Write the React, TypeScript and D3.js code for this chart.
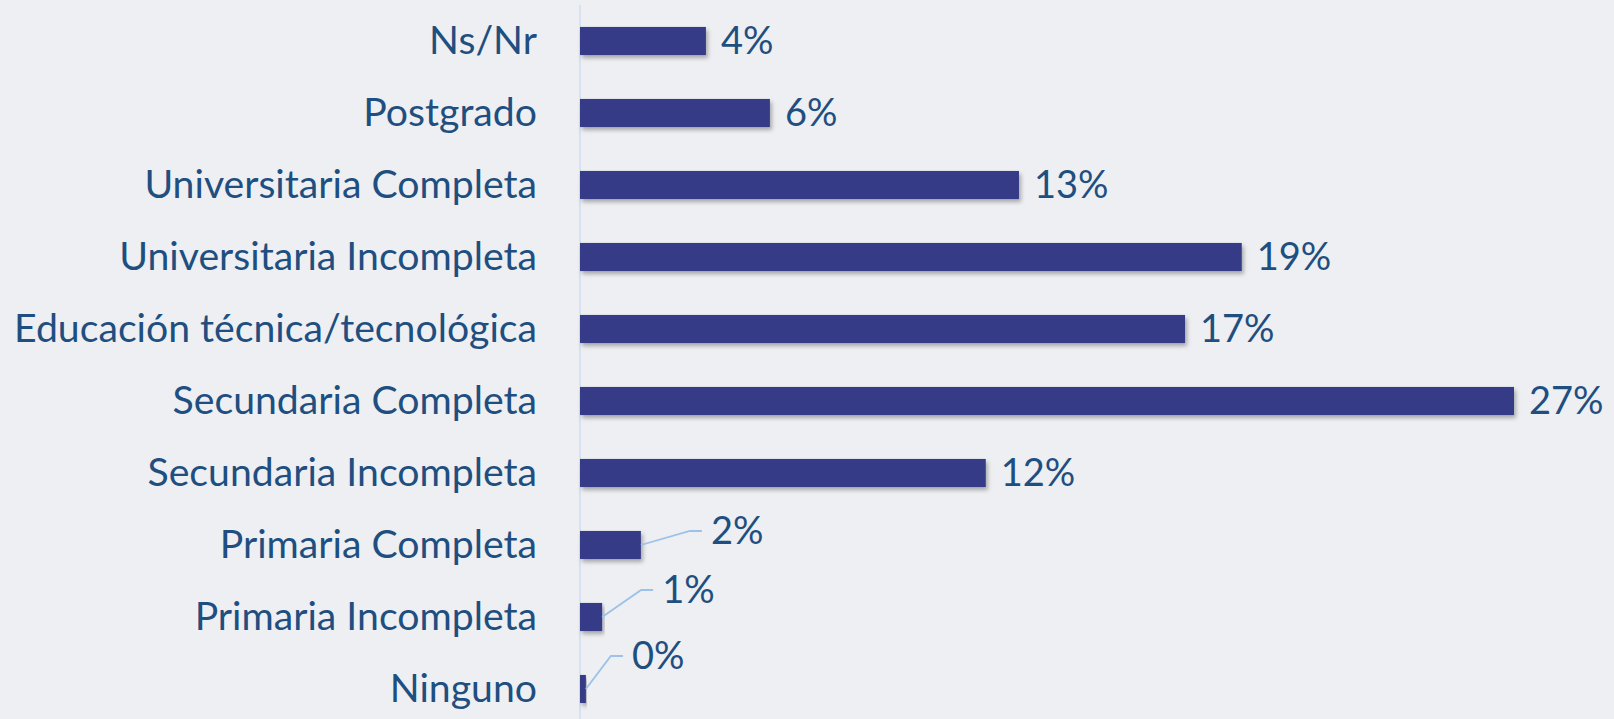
import React from "react";
import * as d3 from "d3";

const categories = [
  "Ns/Nr",
  "Postgrado",
  "Universitaria Completa",
  "Universitaria Incompleta",
  "Educación técnica/tecnológica",
  "Secundaria Completa",
  "Secundaria Incompleta",
  "Primaria Completa",
  "Primaria Incompleta",
  "Ninguno",
];
const values = [3.64, 5.49, 12.69, 19.13, 17.49, 27.0, 11.73, 1.76, 0.64, 0.17];
const valueLabels = ["4%", "6%", "13%", "19%", "17%", "27%", "12%", "2%", "1%", "0%"];

// leader-line label offsets (layout, for the small bars)
const leaderOffsets: Record<string, { dx: number; dy: number }> = {
  "Primaria Completa": { dx: 61, dy: -14 },
  "Primaria Incompleta": { dx: 51, dy: -27 },
  Ninguno: { dx: 37, dy: -33 },
};

const W = 1614;
const H = 719;
const FONT = "Lato, 'Noto Sans', sans-serif";
const TEXT = "#1F4E80";
const BAR = "#353A87";
const BG = "#EDEFF2";

export default function App() {
  const x0 = 580;
  const x = d3.scaleLinear().domain([0, 27]).range([x0, x0 + 934]);
  const y = d3
    .scaleBand<string>()
    .domain(categories)
    .range([5, 725])
    .paddingInner(0.61)
    .paddingOuter(0.305);
  const bw = y.bandwidth();

  return (
    <svg
      width={W}
      height={H}
      style={{ position: "absolute", left: 0, top: 0, background: BG }}
    >
      <defs>
        <filter id="sh" x="-5%" y="-30%" width="115%" height="190%">
          <feDropShadow dx="2" dy="3" stdDeviation="2" floodColor="#000" floodOpacity="0.3" />
        </filter>
      </defs>
      <rect x={0} y={0} width={W} height={H} fill={BG} />
      <line x1={x0} x2={x0} y1={5} y2={H} stroke="#CFDDF0" strokeWidth={1.5} />
      {categories.map((c, i) => {
        const yc = (y(c) as number) + bw / 2;
        const xe = x(values[i]);
        const lo = leaderOffsets[c];
        return (
          <g key={c}>
            <text
              x={537}
              y={yc + 13}
              textAnchor="end"
              fontFamily={FONT}
              fontSize={39.2}
              fill={TEXT}
            >
              {c}
            </text>
            <rect
              x={x0}
              y={y(c)}
              width={xe - x0}
              height={bw}
              fill={BAR}
              filter="url(#sh)"
            />
            {lo ? (
              <g>
                <polyline
                  points={`${xe},${yc} ${xe + lo.dx - 12},${yc + lo.dy} ${xe + lo.dx},${yc + lo.dy}`}
                  fill="none"
                  stroke="#9CC2EA"
                  strokeWidth={1.8}
                />
                <text
                  x={xe + lo.dx + 9}
                  y={yc + lo.dy + 13}
                  fontFamily={FONT}
                  fontSize={38}
                  fill={TEXT}
                >
                  {valueLabels[i]}
                </text>
              </g>
            ) : (
              <text
                x={xe + 15}
                y={yc + 13}
                fontFamily={FONT}
                fontSize={38}
                fill={TEXT}
              >
                {valueLabels[i]}
              </text>
            )}
          </g>
        );
      })}
    </svg>
  );
}
